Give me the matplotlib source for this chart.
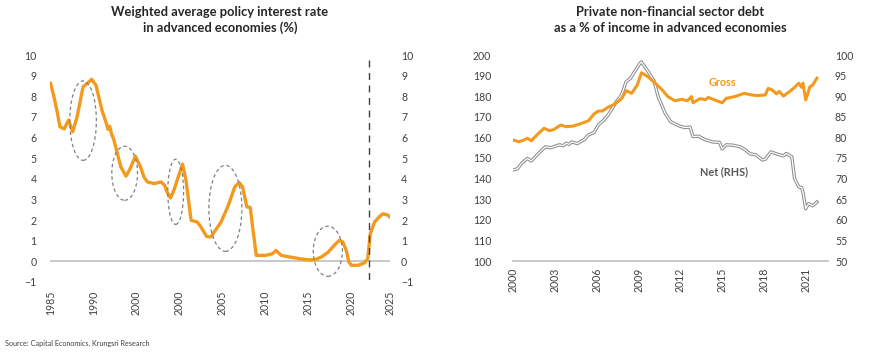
import matplotlib
matplotlib.use("Agg")
import matplotlib.pyplot as plt
from matplotlib.patches import Ellipse

plt.rcParams['font.family'] = ['Lato', 'DejaVu Sans']

# ---------------- Left chart data ----------------
rate_years = [1985.0, 1985.4, 1985.8, 1986.1, 1986.6, 1987.1, 1987.6, 1988.1, 1988.8, 1989.3,
              1989.8, 1990.3, 1991.0, 1991.5, 1991.7, 1991.9, 1992.1, 1992.4, 1993.2, 1993.8,
              1994.3, 1994.9, 1995.5, 1995.9, 1996.3, 1997.1, 1997.9, 1998.3, 1998.6, 1999.0,
              1999.4, 1999.9, 2000.4, 2000.8, 2001.4, 2002.1, 2002.5, 2003.2, 2003.7, 2004.9,
              2005.7, 2006.5, 2007.0, 2007.4, 2007.9, 2008.3, 2008.6, 2009.0, 2010.1, 2010.9,
              2011.3, 2011.9, 2012.9, 2013.4, 2014.0, 2015.0, 2015.8, 2016.6, 2017.4, 2018.1,
              2018.7, 2019.1, 2019.5, 2019.8, 2020.1, 2020.9, 2021.6, 2022.0, 2022.3, 2022.8,
              2023.4, 2023.8, 2024.4, 2024.6]
rate_values = [8.63, 7.98, 7.2, 6.52, 6.42, 6.84, 6.28, 7.0, 8.46, 8.63,
               8.82, 8.54, 7.33, 6.7, 6.4, 6.55, 6.2, 5.87, 4.58, 4.13,
               4.5, 5.10, 4.58, 4.09, 3.85, 3.77, 3.85, 3.69, 3.36, 3.07,
               3.45, 4.09, 4.71, 3.93, 1.99, 1.91, 1.70, 1.21, 1.18, 1.91,
               2.67, 3.61, 3.82, 3.61, 2.64, 2.61, 1.59, 0.29, 0.29, 0.37,
               0.53, 0.29, 0.21, 0.18, 0.13, 0.08, 0.08, 0.21, 0.45, 0.78,
               1.02, 0.94, 0.53, -0.03, -0.19, -0.19, -0.08, 0.13, 1.34, 1.91,
               2.18, 2.31, 2.23, 2.15]
left_ticks = [1985, 1990, 1995, 2000, 2005, 2010, 2015, 2020, 2024.6]
left_tick_labels = ["1985", "1990", "2000", "2000", "2005", "2010", "2015", "2020", "2025"]
left_yticks = [-1, 0, 1, 2, 3, 4, 5, 6, 7, 8, 9, 10]
# ellipse annotations: (center year, center value, width in years, height in value)
ellipses = [(1988.8, 6.82, 3.1, 3.85),
            (1993.65, 4.27, 3.0, 2.62),
            (1999.6, 3.37, 1.85, 3.16),
            (2005.4, 2.57, 3.85, 4.17),
            (2017.35, 0.49, 3.4, 2.43)]
marker_year = 2022.2

# ---------------- Right chart data ----------------
gross_years = [2000.0, 2000.4, 2000.8, 2001.0, 2001.3, 2001.7, 2002.2, 2002.6, 2002.9, 2003.4,
               2003.8, 2004.3, 2004.9, 2005.4, 2005.8, 2006.1, 2006.4, 2006.8, 2007.3, 2007.8,
               2008.1, 2008.5, 2008.9, 2009.2, 2009.6, 2010.2, 2010.7, 2011.1, 2011.6, 2012.1,
               2012.5, 2012.8, 2012.9, 2013.4, 2013.8, 2014.0, 2014.5, 2015.0, 2015.3, 2015.9,
               2016.6, 2017.1, 2017.5, 2018.1, 2018.3, 2018.6, 2018.9, 2019.1, 2019.4, 2019.8,
               2020.2, 2020.5, 2020.7, 2020.8, 2021.0, 2021.3, 2021.5, 2021.8]
gross_values = [158.7, 157.9, 158.8, 159.6, 158.4, 161.2, 164.4, 163.3, 163.8, 166.0,
                165.2, 165.5, 166.8, 168.1, 171.4, 172.8, 172.8, 174.6, 176.2, 179.0,
                182.7, 181.4, 185.4, 191.4, 189.8, 186.3, 183.0, 179.8, 177.8, 178.5,
                177.8, 179.8, 176.8, 178.8, 178.3, 179.4, 178.1, 176.8, 179.0, 179.8,
                181.4, 180.6, 180.3, 180.6, 183.8, 183.0, 181.1, 182.3, 180.1, 182.0,
                184.3, 186.3, 184.3, 186.3, 178.2, 184.6, 185.4, 188.7]
net_years = [2000.0, 2000.3, 2000.6, 2001.0, 2001.3, 2001.8, 2002.3, 2002.7, 2003.3, 2003.6,
             2003.8, 2004.0, 2004.2, 2004.6, 2005.1, 2005.4, 2005.8, 2006.1, 2006.5, 2006.8,
             2007.2, 2007.4, 2007.7, 2007.9, 2008.1, 2008.4, 2008.7, 2009.1, 2009.2, 2009.7,
             2010.1, 2010.4, 2010.9, 2011.3, 2011.6, 2011.9, 2012.3, 2012.7, 2012.9, 2013.3,
             2013.8, 2014.3, 2014.8, 2015.0, 2015.3, 2015.8, 2016.3, 2016.7, 2017.0, 2017.4,
             2017.9, 2018.1, 2018.5, 2018.9, 2019.4, 2019.6, 2020.0, 2020.2, 2020.5, 2020.7,
             2020.8, 2021.0, 2021.2, 2021.5, 2021.8]
net_values = [72.1, 72.4, 73.7, 74.9, 74.3, 76.1, 77.7, 77.5, 78.2, 78.0,
              78.6, 78.3, 78.9, 78.5, 79.5, 80.6, 81.2, 83.0, 84.2, 85.4,
              87.5, 88.7, 89.9, 91.5, 93.5, 94.3, 95.9, 98.0, 98.3, 95.9,
              93.8, 89.9, 85.9, 83.8, 83.3, 82.8, 82.4, 82.5, 80.2, 80.3,
              79.4, 78.9, 78.8, 77.2, 78.2, 78.1, 77.7, 76.9, 76.0, 75.8,
              74.5, 74.7, 76.5, 76.0, 75.5, 76.1, 75.3, 70.0, 68.0, 67.8,
              66.7, 62.7, 63.9, 63.4, 64.3]
right_ticks = [2000, 2003, 2006, 2009, 2012, 2015, 2018, 2021]
right_tick_labels = ["2000", "2003", "2006", "2009", "2012", "2015", "2018", "2021"]
left_axis_ticks = [100, 110, 120, 130, 140, 150, 160, 170, 180, 190, 200]
right_axis_ticks = [50, 55, 60, 65, 70, 75, 80, 85, 90, 95, 100]

ORANGE = '#F39A1E'
TXT = '#404040'
W, H = 870, 354
TICK_FS = 7.6

fig = plt.figure(figsize=(W / 100, H / 100), dpi=100)

# ---------------- Left chart ----------------
ax = fig.add_axes([50.5 / W, 1 - 282 / H, (390 - 50.5) / W, (282 - 55) / H])
ax.set_xlim(1985, 2024.6)
ax.set_ylim(-1, 10)
for s in ax.spines.values():
    s.set_visible(False)
ax.axhline(0, color='#BFBFBF', lw=1.2, zorder=1)
ax.plot(rate_years, rate_values, color=ORANGE, lw=2.4, zorder=3, solid_joinstyle='round')
for cx, cy, ew, eh in ellipses:
    ax.add_patch(Ellipse((cx, cy), ew, eh, fill=False, ec='#808080', lw=0.9,
                         ls=(0, (2.8, 2.2)), zorder=4))
ax.plot([marker_year, marker_year], [9.75, -1.1], color='#404040', lw=1.0,
        ls=(0, (5, 4)), clip_on=False, zorder=4)
ax.set_xticks(left_ticks)
ax.set_xticklabels(left_tick_labels, rotation=90)
ax.set_yticks(left_yticks)
ax.tick_params(axis='x', length=0, pad=6, labelsize=TICK_FS, labelcolor=TXT)
ax.tick_params(axis='y', length=0, pad=10, labelsize=TICK_FS, labelcolor=TXT)
axr = ax.twinx()
axr.set_ylim(-1, 10)
axr.set_yticks(left_yticks)
for s in axr.spines.values():
    s.set_visible(False)
axr.tick_params(axis='y', length=0, pad=8, labelsize=TICK_FS, labelcolor=TXT)
fig.text(220 / W, 1 - 20 / H, "Weighted average policy interest rate\nin advanced economies (%)",
         ha='center', va='center', fontsize=9.3, fontweight='bold', color='#262626',
         linespacing=1.3)

# ---------------- Right chart ----------------
bx = fig.add_axes([513.3 / W, 1 - 261 / H, (828 - 513.3) / W, (261 - 55) / H])
bx.set_xlim(2000, 2022.6)
bx.set_ylim(100, 200)
for s in bx.spines.values():
    s.set_visible(False)
bx.axhline(100, color='#BFBFBF', lw=1.2, zorder=1, clip_on=False)
bx.plot(gross_years, gross_values, color=ORANGE, lw=2.2, zorder=3)
bx.set_xticks(right_ticks)
bx.set_xticklabels(right_tick_labels, rotation=90)
bx.set_yticks(left_axis_ticks)
bx.tick_params(axis='x', length=0, pad=5, labelsize=TICK_FS, labelcolor=TXT)
bx.tick_params(axis='y', length=0, pad=16, labelsize=TICK_FS, labelcolor=TXT)
bxr = bx.twinx()
bxr.set_ylim(50, 100)
bxr.set_yticks(right_axis_ticks)
for s in bxr.spines.values():
    s.set_visible(False)
bxr.plot(net_years, net_values, color='#8C8C8C', lw=2.4, zorder=2)
bxr.plot(net_years, net_values, color='white', lw=0.9, zorder=2.5)
bxr.tick_params(axis='y', length=0, pad=5, labelsize=TICK_FS, labelcolor=TXT)
bx.set_zorder(bxr.get_zorder() + 1)
bx.patch.set_visible(False)
bx.text(2015.0, 186.8, "Gross", color=ORANGE, fontsize=7.8, fontweight='bold',
        ha='center', va='center')
bx.text(2015.1, 143.5, "Net (RHS)", color='#595959', fontsize=7.8, fontweight='bold',
        ha='center', va='center')
fig.text(670 / W, 1 - 20 / H, "Private non-financial sector debt\nas a % of income in advanced economies",
         ha='center', va='center', fontsize=9.3, fontweight='bold', color='#262626',
         linespacing=1.3)

fig.text(5 / W, 1 - 343 / H, "Source: Capital Economics, Krungsri Research",
         ha='left', va='center', fontsize=5.2, color=TXT)

fig.savefig("out.png", dpi=100)
